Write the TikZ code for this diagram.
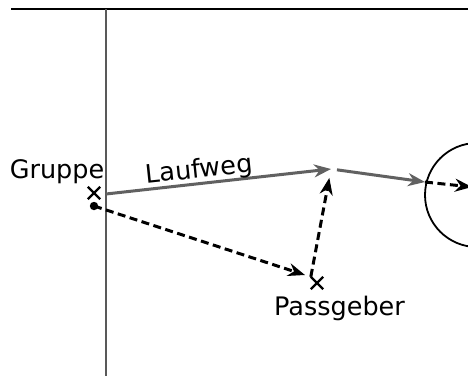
\documentclass[tikz,border=0pt]{standalone}
\usepackage{fontspec}
\setmainfont{DejaVu Sans}
\usetikzlibrary{arrows.meta,shapes.misc}

\begin{document}
\begin{tikzpicture}[
  x=1pt,
  y=-1pt,
  font=\fontsize{25.5}{30}\selectfont,
  >={Stealth[length=17pt,width=13pt,inset=5.5pt]},
  lauf/.style={draw=black!62, line width=3pt, ->},
  pass/.style={draw=black, line width=3pt, dash pattern=on 8pt off 4.5pt, ->},
  spieler/.style={draw, cross out, line width=2.4pt, minimum size=10pt, inner sep=0pt},
  beschriftung/.style={anchor=base, inner sep=0pt},
]
  \useasboundingbox (0, 0) rectangle (468, 376);
  \clip (0, 0) rectangle (468, 376);

  % Spielfeld
  \draw[line width=2.4pt] (11, 9) -- (468, 9);
  \draw[black!65, line width=2.4pt] (106, 9) -- (106, 376);
  \draw[line width=1.8pt] (477, 195) circle[radius=52];

  % Spieler
  \node[spieler] (gruppe) at (94, 193) {};
  \node[spieler] (passgeber) at (317, 283) {};
  \fill (94, 206) circle[radius=4.2] coordinate (ball);

  \node[beschriftung] (lgruppe) at (57, 178) {Gruppe};
  \node[beschriftung] (lpassgeber) at (339.5, 315) {Passgeber};

  % Wege
  \coordinate (start) at (106, 194);
  \coordinate (annahme) at (331, 169);
  \coordinate (kreis) at (425, 182);
  \coordinate (ende) at (472, 187);

  \draw[lauf] (start) -- node[beschriftung, pos=0.42, rotate=6, above=6pt, anchor=base]
    (laufweg) {Laufweg} (annahme);
  \draw[lauf, shorten <=6pt] (annahme) -- (kreis);
  \draw[pass] (kreis) -- (ende);
  \draw[pass] (ball) -- (305, 275) coordinate (zuspiel);
  \draw[pass, shorten >=9pt] (passgeber.north west) -- (annahme);
\end{tikzpicture}
\end{document}
